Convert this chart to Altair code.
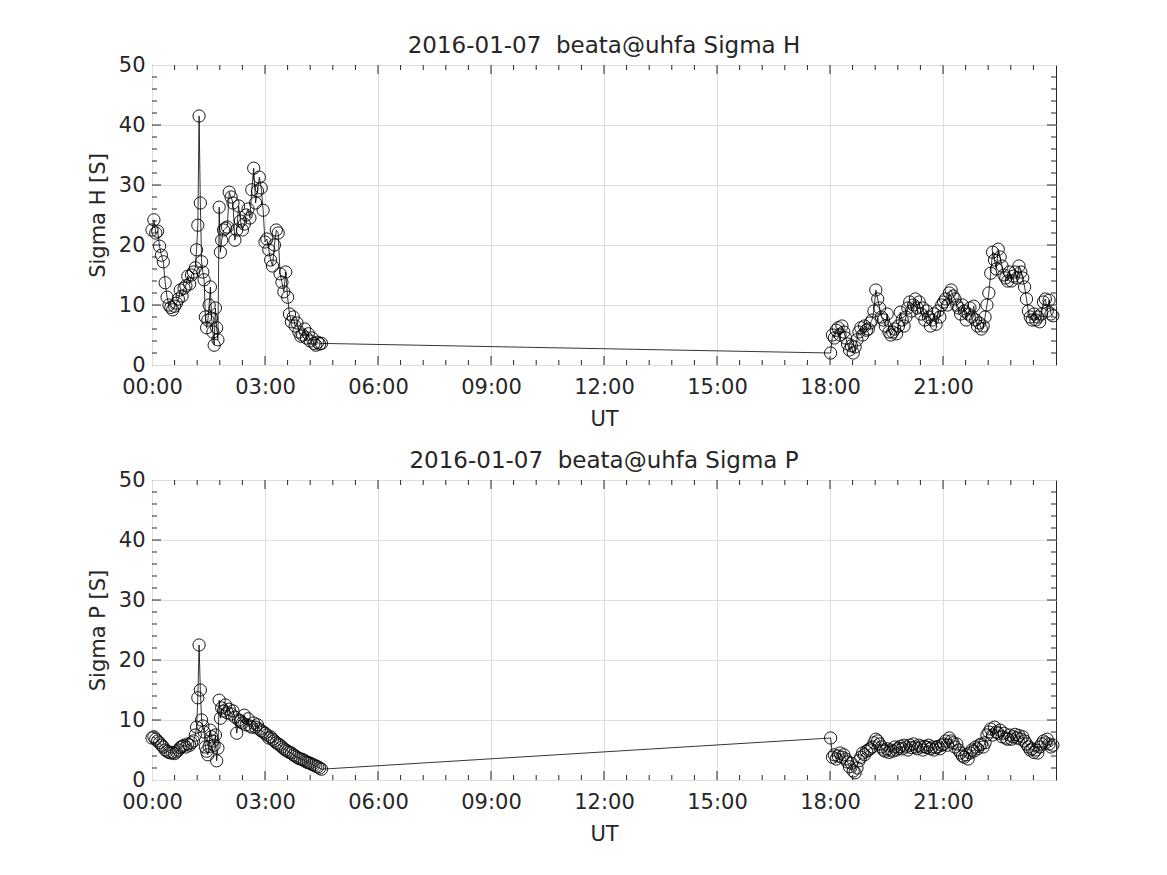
import altair as alt
import pandas as pd

# ---------------- data (minutes after 00:00 UT) ----------------
TIME_MIN = [
    0, 3, 6, 9, 12, 15, 18, 21, 24, 27, 30, 33, 36, 39, 42, 45, 48, 51, 54, 57,
    60, 63, 66, 69, 71, 73, 75, 77, 79, 81, 83, 85, 87, 89, 91, 93, 95, 97, 99, 101,
    103, 105, 107, 109, 111, 114, 117, 120, 123, 126, 129, 132, 135, 138, 141, 144, 147, 150, 153, 156,
    159, 162, 165, 168, 171, 174, 177, 180, 183, 186, 189, 192, 195, 198, 201, 204, 207, 210, 213, 216,
    219, 222, 225, 228, 231, 234, 237, 240, 243, 246, 249, 252, 255, 258, 261, 264, 267, 270,
    1081, 1084, 1087, 1090, 1093, 1096, 1099, 1102, 1105, 1108, 1111, 1114, 1117, 1120, 1123, 1126, 1129, 1132, 1135, 1138,
    1141, 1144, 1147, 1150, 1153, 1156, 1159, 1162, 1165, 1168, 1171, 1174, 1177, 1180, 1183, 1186, 1189, 1192, 1195, 1198,
    1201, 1204, 1207, 1210, 1213, 1216, 1219, 1222, 1225, 1228, 1231, 1234, 1237, 1240, 1243, 1246, 1249, 1252, 1255, 1258,
    1261, 1264, 1267, 1270, 1273, 1276, 1279, 1282, 1285, 1288, 1291, 1294, 1297, 1300, 1303, 1306, 1309, 1312, 1315, 1318,
    1321, 1324, 1327, 1330, 1333, 1336, 1339, 1342, 1345, 1348, 1351, 1354, 1357, 1360, 1363, 1366, 1369, 1372, 1375, 1378,
    1381, 1384, 1387, 1390, 1393, 1396, 1399, 1402, 1405, 1408, 1411, 1414, 1417, 1420, 1423, 1426, 1429, 1432, 1435,
]

SIGMA_H = [
    22.5, 24.2, 22.0, 22.3, 19.8, 18.3, 17.2, 13.7, 11.3, 10.0, 9.6, 9.2, 9.8, 10.3, 11.0, 12.5, 11.5, 12.8, 13.2, 14.8,
    13.5, 15.0, 15.5, 16.2, 19.2, 23.3, 41.5, 27.0, 17.2, 15.5, 14.2, 8.0, 6.2, 7.5, 10.0, 13.0, 7.8, 5.5, 3.3, 9.5,
    6.2, 4.2, 26.3, 18.8, 20.8, 22.5, 22.8, 23.0, 28.8, 28.0, 27.0, 20.8, 22.5, 26.5, 24.0, 22.5, 23.5, 25.0, 26.0, 24.5,
    29.2, 32.8, 27.0, 29.0, 31.3, 29.5, 25.8, 20.5, 21.0, 19.2, 17.5, 16.5, 20.0, 22.5, 22.0, 15.2, 13.8, 12.2, 15.5, 11.3,
    8.5, 7.2, 8.0, 6.5, 7.0, 5.5, 4.8, 5.0, 6.0, 4.5, 5.2, 4.0, 4.5, 3.6, 3.3, 3.8, 3.5, 3.6,
    2.0, 5.0, 4.5, 5.8, 6.2, 5.0, 6.5, 5.5, 4.5, 3.5, 2.5, 3.2, 2.0, 3.0, 4.2, 5.5, 6.2, 5.0, 6.5, 5.8,
    6.0, 7.0, 7.5, 9.0, 12.5, 11.0, 9.5, 8.0, 7.5, 6.5, 8.5, 5.5, 5.0, 5.5, 6.0, 5.2, 6.5, 8.8, 7.5, 6.5,
    8.0, 9.5, 10.5, 9.0, 10.0, 11.0, 9.5, 10.5, 8.5, 9.5, 7.5, 9.0, 8.0, 6.5, 7.5, 8.5, 6.8, 9.0, 8.0, 10.0,
    10.5, 11.0, 10.0, 12.0, 12.5, 11.5, 11.0, 10.0, 9.5, 8.5, 10.0, 9.0, 7.5, 8.5, 9.5, 8.0, 9.8, 7.5, 6.5, 7.0,
    6.0, 6.5, 8.0, 10.0, 12.0, 15.3, 18.8, 17.5, 16.0, 19.3, 18.0, 16.5, 15.0, 14.5, 14.0, 15.5, 14.0, 14.8, 15.5, 14.5,
    16.5, 15.5, 14.5, 13.0, 11.0, 9.0, 8.0, 7.5, 8.5, 7.5, 8.0, 7.2, 8.5, 10.5, 11.0, 9.0, 10.8, 8.5, 8.2,
]

SIGMA_P = [
    7.0, 7.2, 6.8, 6.5, 6.2, 5.8, 5.5, 5.0, 4.8, 4.6, 4.5, 4.6, 4.4, 4.7, 5.0, 5.4, 5.6, 5.8, 5.5, 6.0,
    5.8, 6.2, 6.5, 7.5, 8.8, 13.7, 22.5, 15.0, 10.0, 9.0, 8.0, 5.5, 4.8, 4.2, 5.6, 8.3, 7.2, 6.5, 5.8, 7.5,
    3.2, 5.3, 13.3, 10.3, 12.0, 11.5, 12.5, 11.2, 11.8, 11.0, 11.5, 10.5, 7.8, 10.0, 9.8, 9.5, 10.8, 9.2, 10.2, 9.0,
    8.8, 9.5, 8.8, 9.2, 8.5, 8.2, 8.0, 7.8, 7.5, 7.0, 7.2, 6.8, 6.5, 6.2, 6.0, 5.8, 5.5, 5.2, 5.0, 4.8,
    4.6, 4.5, 4.2, 4.0, 3.8, 3.6, 3.5, 3.4, 3.2, 3.0, 2.9, 2.8, 2.6, 2.5, 2.3, 2.2, 2.0, 1.8,
    7.0, 3.8, 4.2, 3.5, 4.0, 4.5, 3.8, 4.2, 3.5, 3.0, 2.2, 2.8, 1.5, 1.2, 2.0, 3.2, 3.8, 4.5, 4.2, 4.8,
    5.0, 5.2, 5.5, 6.2, 6.8, 6.5, 6.0, 5.5, 5.0, 4.8, 5.2, 4.6, 5.0, 4.8, 5.5, 5.0, 5.3, 5.6, 5.2, 5.8,
    5.5, 5.0, 5.8, 5.4, 6.0, 5.5, 5.2, 5.8, 5.5, 5.0, 5.6, 5.4, 5.8, 5.2, 5.5, 5.0, 5.4, 5.6, 5.2, 5.8,
    6.0, 6.5, 5.8, 7.0, 6.5, 6.2, 5.5, 6.0, 5.0, 4.5, 4.0, 3.8, 4.2, 3.5, 4.5, 5.0, 4.8, 5.5, 5.2, 5.8,
    6.0, 5.5, 6.2, 7.5, 8.0, 8.5, 7.5, 8.8, 8.0, 7.8, 8.3, 7.2, 7.8, 7.0, 6.8, 7.5, 6.8, 7.2, 7.6, 7.0,
    7.4, 6.8, 7.2, 6.5, 6.0, 5.5, 5.0, 5.2, 4.6, 5.0, 4.5, 5.5, 6.0, 6.5, 6.2, 6.8, 6.0, 5.5, 5.8,
]

X_TICKS = [0, 180, 360, 540, 720, 900, 1080, 1260]
X_LABELS = ["00:00", "03:00", "06:00", "09:00", "12:00", "15:00", "18:00", "21:00"]
Y_TICKS = [0, 10, 20, 30, 40, 50]
DATE = "2016-01-07"
SITE = "beata@uhfa"

# ---------------- styling ----------------
W, HGT = 904, 300
INK = "#262626"
FONT = "DejaVu Sans"
MAJ, MIN = 9, 5

df = pd.DataFrame({"t": TIME_MIN, "H": SIGMA_H, "P": SIGMA_P})

xscale = alt.Scale(domain=[0, 1440], nice=False, zero=False)
yscale = alt.Scale(domain=[0, 50], nice=False, zero=False)

label_expr = "[" + ",".join("'%s'" % s for s in X_LABELS) + "][round(datum.value/180)]"

x_minor = [m for m in range(36, 1440, 36) if m % 180 != 0]
x_major = [m for m in range(180, 1440, 180)]
y_minor = [v for v in range(2, 50, 2) if v % 10 != 0]
y_major = [10, 20, 30, 40]


def panel(field, ytitle, name):
    xaxis = alt.Axis(values=X_TICKS, labelExpr=label_expr, title="UT",
                     grid=True, ticks=False, domain=False,
                     labelPadding=11, titlePadding=11, labelFlush=False)
    yaxis = alt.Axis(values=Y_TICKS, title=ytitle, grid=True, ticks=False,
                     domain=False, labelPadding=7, titlePadding=10)
    X = lambda: alt.X("t:Q", scale=xscale, axis=xaxis)
    Y = lambda: alt.Y(f"{field}:Q", scale=yscale, axis=yaxis)

    line = alt.Chart(df).mark_line(color="black", strokeWidth=0.8).encode(x=X(), y=Y())
    pts = alt.Chart(df).mark_point(shape="circle", filled=False, size=150,
                                   color="black", strokeWidth=0.9, opacity=1).encode(x=X(), y=Y())
    layers = [line, pts]

    for vals, ln in ((x_major, MAJ), (x_minor, MIN)):
        base = alt.Chart(pd.DataFrame({"t": vals}))
        layers.append(base.mark_rule(color=INK, strokeWidth=1).encode(
            x=X(), y=alt.value(HGT), y2=alt.value(HGT - ln)))
        layers.append(base.mark_rule(color=INK, strokeWidth=1).encode(
            x=X(), y=alt.value(0), y2=alt.value(ln)))
    for vals, ln in ((y_major, MAJ), (y_minor, MIN)):
        base = alt.Chart(pd.DataFrame({field: vals}))
        layers.append(base.mark_rule(color=INK, strokeWidth=1).encode(
            y=Y(), x=alt.value(0), x2=alt.value(ln)))
        layers.append(base.mark_rule(color=INK, strokeWidth=1).encode(
            y=Y(), x=alt.value(W), x2=alt.value(W - ln)))

    return alt.layer(*layers).properties(
        width=W, height=HGT,
        title=alt.TitleParams(text=f"{DATE}\u00a0\u00a0{SITE} Sigma {name}", fontSize=23,
                              font=FONT, fontWeight="normal", color=INK,
                              offset=-4, anchor="middle", frame="group"),
    )


chart = alt.vconcat(
    panel("H", "Sigma H [S]", "H"),
    panel("P", "Sigma P [S]", "P"),
    spacing=115, bounds="flush",
).properties(
    padding={"left": 78, "top": 26, "right": 10, "bottom": 10},
    background="white",
).configure_view(
    stroke=INK, strokeWidth=1,
).configure_axis(
    labelFont=FONT, labelFontSize=21, labelColor=INK,
    titleFont=FONT, titleFontSize=21, titleFontWeight="normal", titleColor=INK,
    gridColor="#dedede", gridWidth=1, gridOpacity=1,
)

chart.save("out.html", embed_options={"renderer": "svg", "actions": False})
